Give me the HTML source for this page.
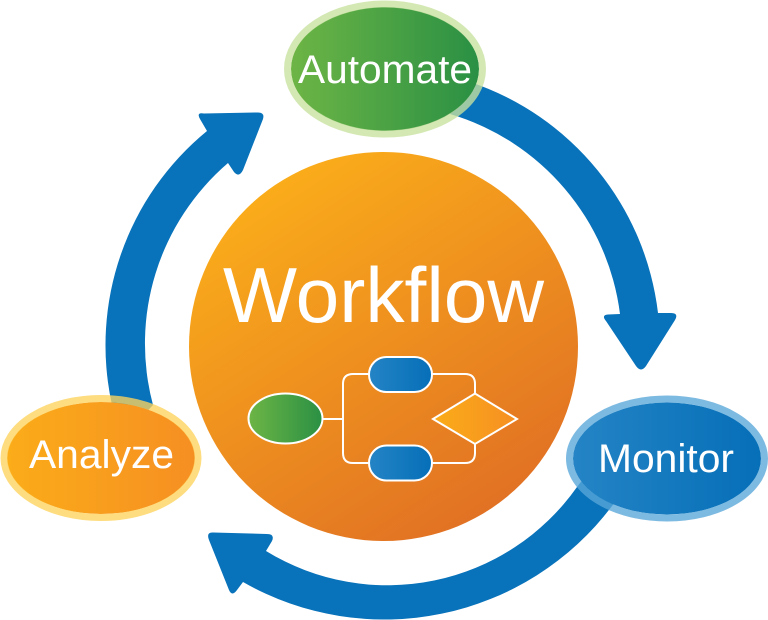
<!DOCTYPE html>
<html><head><meta charset="utf-8"><style>
html,body{margin:0;padding:0;background:#fff}
svg{display:block}
text{font-family:"Liberation Sans",sans-serif;fill:#fff}
</style></head><body>
<svg width="768" height="620" viewBox="0 0 768 620" xmlns="http://www.w3.org/2000/svg">
<defs>
<linearGradient id="main" gradientUnits="userSpaceOnUse" x1="270" y1="170" x2="500" y2="525"><stop offset="0" stop-color="#FBAE1A"/><stop offset="1" stop-color="#E06F24"/></linearGradient>
<linearGradient id="g"><stop offset="0" stop-color="#6DB545"/><stop offset="1" stop-color="#2A9044"/></linearGradient>
<linearGradient id="o"><stop offset="0" stop-color="#FBAC19"/><stop offset="1" stop-color="#F68F22"/></linearGradient>
<linearGradient id="b"><stop offset="0" stop-color="#2484C5"/><stop offset="1" stop-color="#066FB8"/></linearGradient>
</defs>
<g fill="#0872BA">
<path d="M440 70L470 82A278 278 0 0 1 658 313L671 313Q679 313 675 320L646 366Q641 373 636 366L606 321Q601 315 608 314.500L620 314A240 240 0 0 0 450 114Z"/>
<path d="M130 430L112 405A277 277 0 0 1 207 131L200 119Q196 112 204 113.500L257 112.500Q265 112 263 119L243 170Q239 178 234 172L228 163A238 238 0 0 0 153 405Z"/>
<path d="M625 490L612 506A285 285 0 0 1 243 582L237 590Q232 597 229 590L209 540Q206 532 213 532.500L267 534Q275 534 272 541L266 551A232 232 0 0 0 577 487L590 470Z"/>
</g>
<circle cx="383.500" cy="346.500" r="194.500" fill="url(#main)"/>
<text x="223" y="322" font-size="78" textLength="321" lengthAdjust="spacingAndGlyphs">Workflow</text>
<g fill="none" stroke="#fff" stroke-width="2">
<path d="M323 419H343"/>
<path d="M369 374H353Q343 374 343 384V453Q343 463 353 463H369"/>
<path d="M432 374H465Q475 374 475 384V393"/>
<path d="M432 463H465Q475 463 475 453V444"/>
</g>
<g stroke="#fff" stroke-width="2">
<ellipse cx="285.500" cy="418.500" rx="37" ry="25" fill="url(#g)"/>
<rect x="369" y="357" width="63" height="35" rx="17.500" fill="url(#b)"/>
<rect x="369" y="445.500" width="63" height="35" rx="17.500" fill="url(#b)"/>
<polygon points="433,419 475,393.500 517,419 475,444" fill="url(#o)"/>
</g>
<ellipse cx="385" cy="69" rx="94" ry="62" fill="url(#g)"/>
<ellipse cx="385" cy="69" rx="97.500" ry="65" fill="none" stroke="#C8E29F" stroke-opacity=".78" stroke-width="7"/>
<ellipse cx="101" cy="458" rx="94" ry="56" fill="url(#o)"/>
<ellipse cx="101" cy="458" rx="97" ry="59.500" fill="none" stroke="#FED35C" stroke-opacity=".78" stroke-width="7"/>
<ellipse cx="667" cy="458.500" rx="94" ry="56" fill="url(#b)"/>
<ellipse cx="667" cy="458.500" rx="97.500" ry="59.500" fill="none" stroke="#58A6D9" stroke-opacity=".78" stroke-width="7"/>
<text x="298" y="83" font-size="40" textLength="174" lengthAdjust="spacingAndGlyphs">Automate</text>
<text x="29" y="468" font-size="40" textLength="145" lengthAdjust="spacingAndGlyphs">Analyze</text>
<text x="598" y="472" font-size="40" textLength="136" lengthAdjust="spacingAndGlyphs">Monitor</text>
</svg>
</body></html>
